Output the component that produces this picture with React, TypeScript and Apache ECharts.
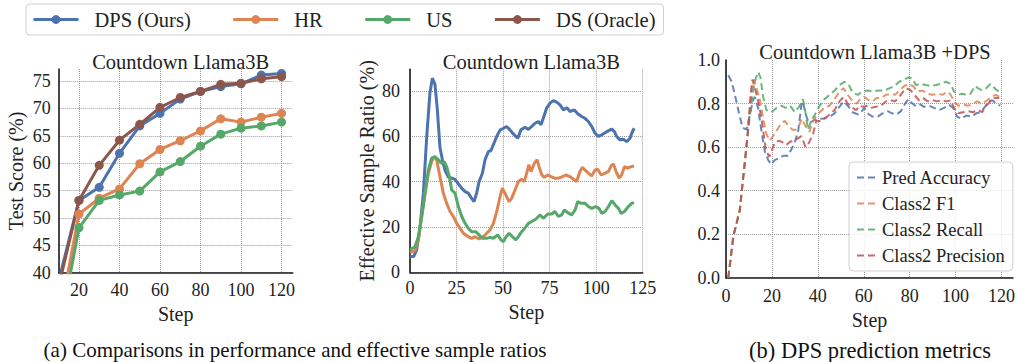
import React, { useEffect, useRef } from "react";
import * as echarts from "echarts";

const FONT = "'Liberation Serif', 'Times New Roman', serif";
const TEXT = "#222222";
const GRID_LINE = "#9a9a9a";

const BLUE = "#4C72B0";
const ORANGE = "#DD8452";
const GREEN = "#55A868";
const RED = "#C44E52";
const BROWN = "#8C564B";

// Test score per evaluation step
const scoreSteps = [10, 20, 30, 40, 50, 60, 70, 80, 90, 100, 110, 120];
const scoreDPS = [38.5, 53.2, 55.6, 61.8, 66.8, 69.1, 71.7, 73.1, 74.0, 74.5, 76.1, 76.4];
const scoreHR = [31.0, 50.7, 53.6, 55.3, 59.9, 62.5, 64.1, 65.9, 68.1, 67.5, 68.4, 69.1];
const scoreUS = [28.5, 48.2, 53.2, 54.2, 54.9, 58.4, 60.3, 63.1, 65.3, 66.4, 66.8, 67.5];
const scoreDS = [37.5, 53.2, 59.6, 64.2, 67.1, 70.2, 72.0, 73.1, 74.4, 74.6, 75.4, 75.8];

// Effective sample ratio (%) as [step, value]
const esrDPS: number[][] = [
  [0, 7], [2, 7], [3.6, 9.9], [5.4, 20], [7.2, 35], [9, 60], [10.7, 79], [12, 85.6], [13.4, 83],
  [14.7, 71.6], [16.1, 55], [17.4, 49.6], [18.8, 45], [20.6, 42], [22.4, 41.5], [24.2, 41], [26, 39],
  [27.8, 37], [29.6, 35.6], [31.3, 34.9], [33.1, 32.6], [34.4, 31.2], [35.8, 34.9], [37.1, 40],
  [38.9, 43.7], [40.3, 49.6], [42.1, 53.2], [43.5, 53.7], [45.1, 56.9], [46.6, 59.9], [48.4, 62.8],
  [50.2, 63.5], [51.9, 64.3], [53.7, 62.8], [55.5, 61], [57.9, 59.1], [59.6, 62.8], [61.8, 64],
  [63.6, 63], [65.4, 64.3], [67.2, 65.7], [69, 66.5], [70.4, 65], [71.6, 67.9], [73.4, 72.4],
  [75.2, 74.6], [77, 75.7], [78.8, 75], [80.6, 73.8], [82.4, 71.6], [84.2, 72.6], [86, 70.9],
  [88.3, 71.6], [90.1, 69.9], [92.2, 68.7], [94, 67.9], [95.8, 66.5], [97.6, 64.3], [99.4, 61.3],
  [101.2, 59.9], [103, 60.6], [105.7, 62], [108.4, 63.1], [109.8, 62], [111, 59.9], [112.8, 58.4],
  [114.6, 58.7], [116.4, 57.6], [118.2, 59.1], [119.1, 61.3], [120.4, 63.5],
];
const esrHR: number[][] = [
  [0, 8.7], [2.7, 9.6], [4.5, 14.3], [6.3, 24.6], [8.1, 34.9], [9.9, 43.7], [11.6, 48.8], [13.1, 51],
  [14.3, 49.6], [16.1, 42.2], [17.9, 34.9], [19.7, 30.4], [21.5, 26.8], [23.3, 24.6], [25.1, 21.6],
  [26.9, 19.4], [28.7, 17.2], [31.3, 15.7], [33.1, 15], [34.9, 15.7], [37.1, 14.7], [39.4, 15.7],
  [41.2, 17.2], [43, 18.7], [44.8, 21.6], [46.6, 26.8], [48.4, 33.4], [49.6, 37.1], [51, 34.9],
  [53.2, 31.2], [54.6, 32.6], [56.4, 36.3], [58.2, 40], [60, 41], [61.4, 40], [62.7, 43.7],
  [63.8, 47.4], [65, 44.4], [66.8, 48.1], [68.3, 49.6], [69.3, 46.6], [70.8, 42.9], [72.2, 41.9],
  [74, 42.9], [75.8, 42.2], [77.6, 41.5], [79.7, 41.5], [81.9, 42.2], [83.7, 42.9], [86, 42.2],
  [88.3, 40.7], [89.5, 40], [91.3, 44.4], [92.6, 46.3], [94, 45.1], [95.8, 43.7], [97.6, 42.5],
  [99.4, 45.1], [100.8, 45.4], [102.7, 42.9], [104.8, 43.7], [106.6, 44.4], [108, 46.9], [109.3, 47.8],
  [110.7, 44.4], [112.3, 41.5], [113.7, 42.9], [115.2, 46.6], [117, 45.9], [118.8, 46.6], [120.4, 46.9],
];
const esrUS: number[][] = [
  [0, 9.9], [2.7, 11.3], [4.5, 15.7], [6.3, 24.6], [8.1, 34.9], [9.9, 45.1], [11.6, 50.3], [13.4, 51],
  [15.2, 49.6], [16.7, 48.1], [18.4, 48.8], [19.7, 46.6], [21.1, 42.2], [22.4, 36.3], [24.2, 34.9],
  [26, 29], [27.8, 24.6], [29.6, 21.6], [31.3, 19.4], [33.1, 17.9], [35.3, 17.9], [37.1, 16.5],
  [38.9, 15], [41.2, 15], [43, 15.4], [44.8, 15], [47.1, 16.5], [48.9, 14.3], [50.2, 13.5],
  [51.6, 15.7], [53.2, 17.2], [55, 15.7], [56.8, 14.3], [58.2, 15.7], [60, 17.9], [62, 19.8],
  [63.6, 21.6], [65.4, 22.4], [67.5, 23.4], [69.9, 25.3], [71.6, 23.8], [74, 25.7], [76.1, 25.7],
  [77.9, 26.8], [79.7, 24.6], [81.5, 25.3], [82.9, 27.5], [84.7, 26.3], [86.9, 25.3], [88.7, 27.5],
  [90.1, 31.2], [91.9, 30.4], [94, 30.4], [95.8, 29], [97.6, 28.2], [99.7, 29], [101.5, 28.2],
  [103, 26], [104.8, 26.8], [106.6, 29], [108.4, 31.6], [110.2, 29.7], [112, 28.2], [113.4, 26],
  [115.2, 26.8], [117.3, 29], [119.1, 30.4], [120.4, 30.7],
];

// DPS predictor metrics as [step, value]
const predAccuracy: number[][] = [
  [1, 0.93], [2.5, 0.9], [4.3, 0.82], [5.8, 0.75], [7.2, 0.69], [9, 0.68], [10.4, 0.75], [11.9, 0.82],
  [12.6, 0.83], [14, 0.78], [15.5, 0.67], [16.9, 0.58], [18.4, 0.54], [19.8, 0.52], [21.2, 0.54],
  [23.1, 0.55], [24.9, 0.56], [27, 0.56], [28.5, 0.59], [29.9, 0.62], [31.4, 0.67], [32.8, 0.79],
  [33.5, 0.81], [34.7, 0.75], [36.1, 0.71], [37.9, 0.72], [40, 0.73], [42.2, 0.73], [45.1, 0.74],
  [47.3, 0.755], [49.4, 0.785], [51.2, 0.81], [53, 0.79], [55.2, 0.76], [57.4, 0.75], [58.8, 0.76],
  [60.3, 0.78], [62.2, 0.75], [63.9, 0.74], [66.1, 0.74], [68.2, 0.755], [70.4, 0.765], [72.3, 0.755],
  [74.3, 0.75], [76.2, 0.765], [78, 0.8], [79.5, 0.82], [81.2, 0.8], [82.4, 0.79], [84.1, 0.8],
  [86.2, 0.785], [88.5, 0.79], [90.6, 0.78], [92.8, 0.77], [95, 0.78], [97.1, 0.795], [98.9, 0.78],
  [100.7, 0.74], [102.6, 0.73], [104.7, 0.745], [107, 0.74], [109, 0.755], [110.9, 0.76],
  [112.8, 0.785], [114.5, 0.81], [116, 0.815], [117.7, 0.8], [119.5, 0.79],
];
const class2F1: number[][] = [
  [1, 0], [3.2, 0.19], [6, 0.31], [8.2, 0.53], [9.7, 0.69], [11.1, 0.86], [12.3, 0.91], [13, 0.88],
  [14.7, 0.82], [16.2, 0.73], [17.6, 0.66], [19.1, 0.63], [20.5, 0.65], [22.3, 0.68], [24.1, 0.71],
  [25.6, 0.72], [27, 0.7], [28.9, 0.68], [30.4, 0.68], [31.8, 0.7], [33, 0.73], [35, 0.69],
  [36.4, 0.67], [37.5, 0.71], [39.3, 0.745], [40.8, 0.76], [42.9, 0.78], [45.1, 0.79], [47.3, 0.82],
  [49.4, 0.855], [51.2, 0.87], [53, 0.84], [55.2, 0.81], [56.9, 0.8], [58.4, 0.82], [60.3, 0.83],
  [62.2, 0.815], [63.9, 0.81], [65.6, 0.825], [67.5, 0.825], [69.7, 0.84], [71.8, 0.845],
  [73.7, 0.84], [75.4, 0.86], [77.6, 0.88], [79.3, 0.89], [81.5, 0.88], [83.4, 0.855], [85.6, 0.86],
  [87.8, 0.845], [90, 0.84], [92.1, 0.845], [94.3, 0.84], [96.4, 0.855], [97.9, 0.84], [99.3, 0.81],
  [101.2, 0.79], [103.2, 0.795], [105.5, 0.79], [107.5, 0.8], [109.4, 0.81], [111.6, 0.8],
  [113.8, 0.815], [115.6, 0.83], [117.4, 0.84], [119.5, 0.83],
];
const class2Recall: number[][] = [
  [1, 0], [3.2, 0.19], [6, 0.31], [8.2, 0.53], [9.9, 0.7], [11.5, 0.84], [12.8, 0.91], [14, 0.945],
  [15, 0.92], [16.2, 0.83], [17.6, 0.77], [19.8, 0.76], [22, 0.78], [24.1, 0.79], [26, 0.78],
  [28, 0.79], [29.9, 0.76], [31.8, 0.785], [33.5, 0.82], [34.7, 0.755], [35.7, 0.68], [37.1, 0.72],
  [39.3, 0.76], [40.8, 0.79], [42.9, 0.82], [45.1, 0.84], [47.3, 0.86], [49.4, 0.885], [51.6, 0.9],
  [53.5, 0.885], [55.2, 0.85], [57.4, 0.84], [59.3, 0.855], [61.7, 0.86], [63.9, 0.855],
  [66.5, 0.86], [69, 0.86], [71.1, 0.87], [73.3, 0.88], [75.4, 0.9], [77.6, 0.91], [79.5, 0.92],
  [81.2, 0.915], [82.7, 0.885], [84.9, 0.89], [87, 0.885], [89.2, 0.88], [91.4, 0.885], [93.5, 0.89],
  [95.7, 0.9], [97.9, 0.89], [99.3, 0.855], [101.2, 0.84], [102.9, 0.845], [104.7, 0.84],
  [106.5, 0.845], [108.4, 0.88], [109.9, 0.87], [111.6, 0.86], [113.3, 0.87], [115.2, 0.89],
  [116.6, 0.875], [118.1, 0.86], [119.5, 0.855],
];
const class2Precision: number[][] = [
  [1, 0], [3.2, 0.19], [6, 0.31], [8.2, 0.53], [9.7, 0.69], [10.8, 0.85], [11.5, 0.91], [13, 0.855],
  [14.5, 0.79], [15.9, 0.7], [17.3, 0.59], [18.8, 0.555], [19.8, 0.58], [21.2, 0.62], [23.1, 0.63],
  [24.9, 0.62], [26.3, 0.61], [28, 0.625], [29.5, 0.63], [31.4, 0.64], [32.8, 0.65], [34.7, 0.6],
  [35.7, 0.61], [37.9, 0.66], [39.3, 0.72], [40.8, 0.72], [42.9, 0.73], [45.1, 0.75], [47.3, 0.77],
  [49.4, 0.81], [51.2, 0.83], [53, 0.8], [55.2, 0.78], [56.7, 0.77], [58.1, 0.79], [59.8, 0.785],
  [61.7, 0.79], [63.1, 0.78], [65.3, 0.785], [67.5, 0.79], [69.7, 0.81], [71.8, 0.815], [73.7, 0.81],
  [75.4, 0.83], [77.2, 0.855], [78.6, 0.87], [80.5, 0.86], [82, 0.84], [84.1, 0.815], [85.9, 0.825],
  [87.8, 0.81], [90, 0.815], [92.1, 0.81], [94, 0.815], [96, 0.81], [97.9, 0.815], [99.3, 0.78],
  [101.2, 0.755], [103.2, 0.76], [105.5, 0.765], [107.5, 0.76], [109.9, 0.77], [111.6, 0.76],
  [113.3, 0.79], [115.2, 0.81], [117, 0.825], [119, 0.825],
];

// Tick positions
const scoreXTicks = [20, 40, 60, 80, 100, 120];
const scoreYTicks = [40, 45, 50, 55, 60, 65, 70, 75];
const esrXTicks = [0, 25, 50, 75, 100, 125];
const esrYTicks = [0, 20, 40, 60, 80];
const predXTicks = [0, 20, 40, 60, 80, 100, 120];
const predYGrid = [0, 0.2, 0.4, 0.6, 0.8];
const predYLabels = [0, 0.2, 0.4, 0.6, 0.8, 1.0];

const scoreNames = ["DPS (Ours)", "HR", "US", "DS (Oracle)"];
const metricNames = ["Pred Accuracy", "Class2 F1", "Class2 Recall", "Class2 Precision"];

const captionA = "(a) Comparisons in performance and effective sample ratios";
const captionB = "(b) DPS prediction metrics";

const axisLine = { show: true, lineStyle: { color: "#1a1a1a", width: 1.6 } };
const splitLine = { show: true, lineStyle: { color: GRID_LINE, type: "dotted" as const, width: 1 } };

function valueAxis(
  gridIndex: number,
  min: number,
  max: number,
  gridTicks: number[],
  labelTicks: number[],
  label: any,
  rest: any = {}
) {
  return {
    type: "value",
    gridIndex,
    min,
    max,
    axisLine,
    axisTick: { show: false, customValues: gridTicks },
    splitLine,
    axisLabel: {
      customValues: labelTicks,
      color: TEXT,
      fontFamily: FONT,
      fontSize: 18,
      ...label,
    },
    nameTextStyle: { color: TEXT, fontFamily: FONT, fontSize: 20 },
    ...rest,
  };
}

export default function App() {
  const ref = useRef<HTMLDivElement>(null);

  useEffect(() => {
    if (!ref.current) return;
    const chart = echarts.init(ref.current, undefined, { renderer: "svg" });

    const scoreSeries = [
      { name: scoreNames[0], color: BLUE, values: scoreDPS },
      { name: scoreNames[1], color: ORANGE, values: scoreHR },
      { name: scoreNames[2], color: GREEN, values: scoreUS },
      { name: scoreNames[3], color: BROWN, values: scoreDS },
    ].map((s) => ({
      name: s.name,
      type: "line",
      xAxisIndex: 0,
      yAxisIndex: 0,
      data: scoreSteps.map((x, i) => [x, s.values[i]]),
      symbol: "circle",
      symbolSize: 9,
      itemStyle: { color: s.color },
      lineStyle: { color: s.color, width: 3 },
      clip: true,
    }));

    const esrSeries = [
      { name: scoreNames[0], color: BLUE, data: esrDPS },
      { name: scoreNames[1], color: ORANGE, data: esrHR },
      { name: scoreNames[2], color: GREEN, data: esrUS },
    ].map((s) => ({
      name: s.name,
      type: "line",
      xAxisIndex: 1,
      yAxisIndex: 1,
      data: s.data,
      symbol: "none",
      itemStyle: { color: s.color },
      lineStyle: { color: s.color, width: 3 },
    }));

    const metricSeries = [
      { name: metricNames[0], color: BLUE, data: predAccuracy },
      { name: metricNames[1], color: ORANGE, data: class2F1 },
      { name: metricNames[2], color: GREEN, data: class2Recall },
      { name: metricNames[3], color: RED, data: class2Precision },
    ].map((s) => ({
      name: s.name,
      type: "line",
      xAxisIndex: 2,
      yAxisIndex: 2,
      data: s.data,
      symbol: "none",
      itemStyle: { color: s.color },
      lineStyle: { color: s.color, width: 2, type: [7, 4], opacity: 0.85 },
    }));

    chart.setOption({
      animation: false,
      backgroundColor: "#ffffff",
      textStyle: { fontFamily: FONT, color: TEXT },
      title: [
        { text: "Countdown Llama3B", left: 175.7, top: 46 },
        { text: "Countdown Llama3B", left: 526.3, top: 46 },
        { text: "Countdown Llama3B +DPS", left: 870, top: 36.5 },
      ].map((t) => ({
        ...t,
        textAlign: "center",
        textStyle: { fontFamily: FONT, fontSize: 20.5, fontWeight: "normal", color: TEXT },
      })),
      legend: [
        {
          data: scoreNames,
          orient: "horizontal",
          left: 26,
          top: 4,
          padding: [5, 8, 5, 6],
          itemWidth: 45,
          itemHeight: 11,
          itemGap: 41,
          borderColor: "#d0d0d0",
          borderWidth: 1,
          borderRadius: 4,
          lineStyle: { width: 3 },
          textStyle: { fontFamily: FONT, fontSize: 20.5, color: TEXT, padding: [0, 0, 0, 11] },
          selectedMode: false,
        },
        {
          data: metricNames,
          orient: "vertical",
          left: 849,
          top: 162,
          padding: [6, 8, 6, 7],
          itemWidth: 19,
          itemHeight: 10,
          itemGap: 7,
          borderColor: "#d0d0d0",
          borderWidth: 1,
          borderRadius: 4,
          backgroundColor: "rgba(255,255,255,0.8)",
          itemStyle: { opacity: 0 },
          lineStyle: { width: 2 },
          textStyle: { fontFamily: FONT, fontSize: 18.5, color: TEXT, padding: [0, 0, 0, 1] },
          selectedMode: false,
        },
      ],
      grid: [
        { left: 58.7, top: 69, width: 234, height: 203.7 },
        { left: 410, top: 69.3, width: 232.7, height: 203 },
        { left: 726, top: 60, width: 288.3, height: 217.7 },
      ],
      xAxis: [
        valueAxis(0, 10, 125.5, scoreXTicks, scoreXTicks, { margin: 8 }, {
          name: "Step", nameLocation: "middle", nameGap: 28,
        }),
        valueAxis(1, 0, 125, esrXTicks, esrXTicks, { margin: 7 }, {
          name: "Step", nameLocation: "middle", nameGap: 28,
        }),
        valueAxis(2, 0, 125, predXTicks, predXTicks, { margin: 9 }, {
          name: "Step", nameLocation: "middle", nameGap: 23,
        }),
      ],
      yAxis: [
        valueAxis(0, 40, 77.2, scoreYTicks, scoreYTicks, { margin: 8 }, {
          name: "Test Score (%)", nameLocation: "middle", nameGap: 33,
        }),
        valueAxis(1, 0, 89.5, esrYTicks, esrYTicks, { margin: 10 }, {
          name: "Effective Sample Ratio (%)", nameLocation: "middle", nameGap: 33,
        }),
        valueAxis(2, 0, 1, predYGrid, predYLabels, {
          margin: 6,
          formatter: (v: number) => v.toFixed(1),
        }),
      ],
      series: [...scoreSeries, ...esrSeries, ...metricSeries],
      graphic: [
        { text: captionA, x: 295, size: 21 },
        { text: captionB, x: 870, size: 22.5 },
      ].map((c) => ({
        type: "text",
        x: c.x,
        y: 350,
        style: {
          text: c.text,
          fontFamily: FONT,
          fontSize: c.size,
          fill: "#111",
          align: "center",
          verticalAlign: "middle",
        },
      })),
    });

    return () => chart.dispose();
  }, []);

  return (
    <div
      ref={ref}
      style={{ position: "fixed", left: 0, top: 0, width: 1018, height: 362 }}
    />
  );
}
